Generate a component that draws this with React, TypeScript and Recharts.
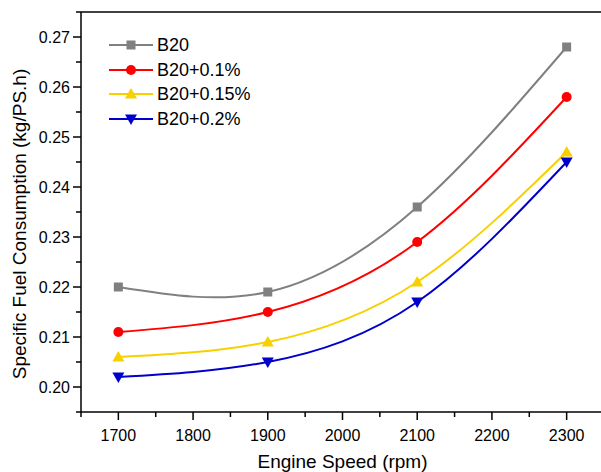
import React from 'react';
import { LineChart, Line, XAxis, YAxis, ReferenceLine } from 'recharts';

const speeds = [1700, 1900, 2100, 2300];
const b20 = [0.220, 0.219, 0.236, 0.268];
const b20p01 = [0.211, 0.215, 0.229, 0.258];
const b20p015 = [0.206, 0.209, 0.221, 0.247];
const b20p02 = [0.202, 0.205, 0.217, 0.245];

const xTicks = [1650, 1700, 1750, 1800, 1850, 1900, 1950, 2000, 2050, 2100, 2150, 2200, 2250, 2300, 2350];
const xMajor = [1700, 1800, 1900, 2000, 2100, 2200, 2300];
const yTicks = [0.195, 0.2, 0.205, 0.21, 0.215, 0.22, 0.225, 0.23, 0.235, 0.24, 0.245, 0.25, 0.255, 0.26, 0.265, 0.27, 0.275];
const yMajor = ['0.20', '0.21', '0.22', '0.23', '0.24', '0.25', '0.26', '0.27'];

const seriesNames = ['B20', 'B20+0.1%', 'B20+0.15%', 'B20+0.2%'];
const seriesKeys = ['b20', 'b20p01', 'b20p015', 'b20p02'];
const seriesColors = ['#808080', '#FF0000', '#F7D000', '#0000CC'];
const seriesShapes = ['square', 'circle', 'up', 'down'];

const data = speeds.map((s, i) => ({
  speed: s,
  b20: b20[i],
  b20p01: b20p01[i],
  b20p015: b20p015[i],
  b20p02: b20p02[i],
}));

const FONT = 'Arial, "Liberation Sans", sans-serif';

function Marker({ cx, cy, shape, color }: any) {
  if (cx == null || cy == null) return null;
  if (shape === 'square') return <rect x={cx - 4.5} y={cy - 4.5} width={9} height={9} fill={color} />;
  if (shape === 'circle') return <circle cx={cx} cy={cy} r={5} fill={color} />;
  if (shape === 'up') return <polygon points={`${cx - 6},${cy + 4.5} ${cx + 6},${cy + 4.5} ${cx},${cy - 6}`} fill={color} />;
  return <polygon points={`${cx - 6},${cy - 4.5} ${cx + 6},${cy - 4.5} ${cx},${cy + 6}`} fill={color} />;
}

function XTick(props: any) {
  const { x, y, payload } = props;
  const v = payload.value;
  const major = xMajor.includes(v);
  return (
    <g>
      <line x1={x} x2={x} y1={y} y2={y + (major ? 8 : 5)} stroke="#000" strokeWidth={1.5} />
      {major && (
        <text x={x} y={y + 29} textAnchor="middle" fontSize={16} fontFamily={FONT} fill="#000">
          {v}
        </text>
      )}
    </g>
  );
}

function YTick(props: any) {
  const { x, y, payload } = props;
  const v = payload.value;
  const label = v.toFixed(3).endsWith('0') ? v.toFixed(2) : null;
  const major = label !== null && yMajor.includes(label);
  return (
    <g>
      <line x1={x} x2={x - (major ? 8 : 5)} y1={y} y2={y} stroke="#000" strokeWidth={1.5} />
      {major && (
        <text x={x - 11} y={y + 5.5} textAnchor="end" fontSize={16} fontFamily={FONT} fill="#000">
          {label}
        </text>
      )}
    </g>
  );
}

function LegendBox() {
  return (
    <div style={{ position: 'absolute', left: 108, top: 33, fontFamily: FONT, fontSize: 18, color: '#000' }}>
      {seriesNames.map((n, i) => (
        <div key={n} style={{ display: 'flex', alignItems: 'center', height: 24.5 }}>
          <svg width={49} height={20} style={{ display: 'block' }}>
            <line x1={1} x2={45} y1={10} y2={10} stroke={seriesColors[i]} strokeWidth={2} />
            <Marker cx={23} cy={10} shape={seriesShapes[i]} color={seriesColors[i]} />
          </svg>
          <span style={{ lineHeight: '20px' }}>{n}</span>
        </div>
      ))}
    </div>
  );
}

export default function App() {
  return (
    <div style={{ position: 'absolute', left: 0, top: 0, width: 601, height: 472, overflow: 'hidden', background: '#fff' }}>
      <LineChart width={612} height={472} data={data} margin={{ top: 12, right: 8, bottom: 0, left: 0 }}>
        <XAxis
          dataKey="speed"
          type="number"
          domain={[1650, 2350]}
          ticks={xTicks}
          interval={0}
          tickSize={0}
          tickMargin={0}
          tickLine={false}
          tick={<XTick />}
          height={60}
          axisLine={{ stroke: '#000', strokeWidth: 1.5 }}
          label={(p: any) => {
            const vb = p.viewBox;
            return (
              <text x={vb.x + vb.width / 2} y={468} textAnchor="middle" fontSize={19} fontFamily={FONT} fill="#000">
                Engine Speed (rpm)
              </text>
            );
          }}
        />
        <YAxis
          type="number"
          domain={[0.195, 0.275]}
          ticks={yTicks}
          interval={0}
          tickSize={0}
          tickMargin={0}
          tickLine={false}
          tick={<YTick />}
          width={81}
          axisLine={{ stroke: '#000', strokeWidth: 1.5 }}
          label={(p: any) => {
            const vb = p.viewBox;
            const cy = vb.y + vb.height / 2 + 12;
            return (
              <text x={26} y={cy} transform={`rotate(-90 26 ${cy})`} textAnchor="middle" fontSize={19} fontFamily={FONT} fill="#000">
                Specific Fuel Consumption (kg/PS.h)
              </text>
            );
          }}
        />
        <ReferenceLine y={0.275} stroke="#000" strokeWidth={1.5} />
        <ReferenceLine x={2350} stroke="#000" strokeWidth={1.5} />
        {seriesKeys.map((k, i) => (
          <Line
            key={k}
            dataKey={k}
            name={seriesNames[i]}
            type="natural"
            stroke={seriesColors[i]}
            strokeWidth={2}
            isAnimationActive={false}
            dot={(p: any) => <Marker key={`${k}-${p.index}`} cx={p.cx} cy={p.cy} shape={seriesShapes[i]} color={seriesColors[i]} />}
            activeDot={false}
          />
        ))}
      </LineChart>
      <LegendBox />
    </div>
  );
}
